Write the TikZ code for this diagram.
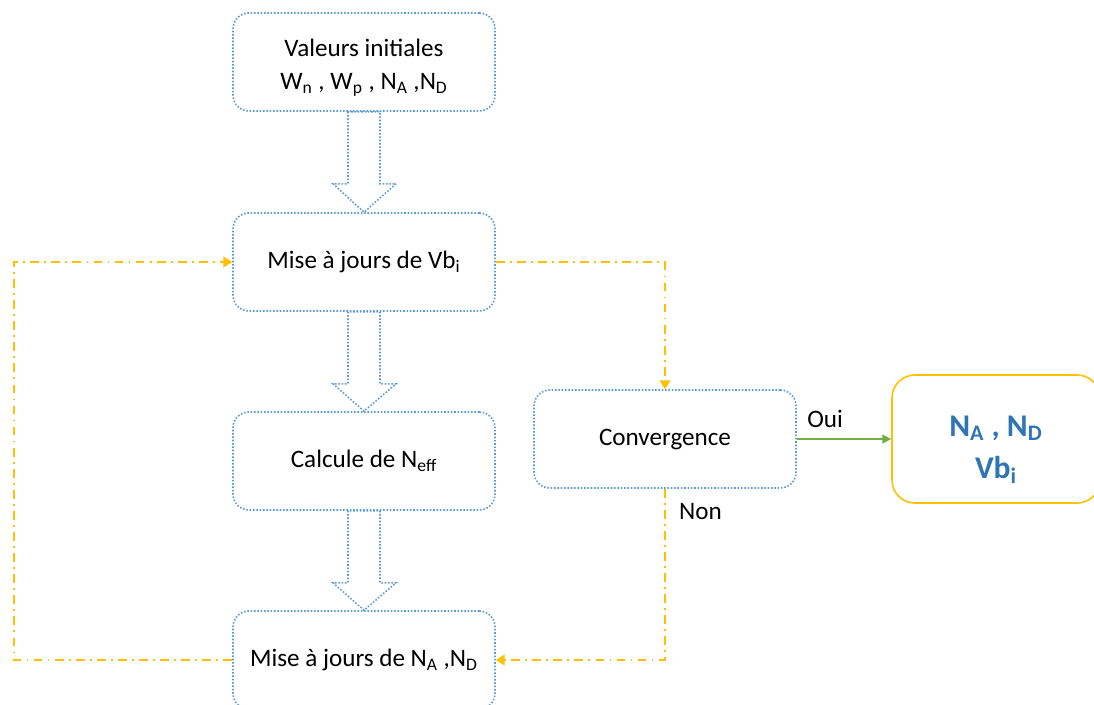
\documentclass[tikz,border=0pt]{standalone}
\usepackage{fontspec}
\setmainfont{Carlito}
\usetikzlibrary{arrows.meta,calc}

\definecolor{boxblue}{HTML}{5B9BD5}
\definecolor{loopgold}{HTML}{FFC000}
\definecolor{okgreen}{HTML}{70AD47}
\definecolor{resblue}{HTML}{2E75B6}

\tikzset{
  etape/.style={draw=boxblue, densely dotted, line width=0.9pt, rounded corners=9pt,
    minimum width=262*0.02cm, minimum height=98*0.02cm, align=center,
    font=\fontsize{14.3}{19}\selectfont},
  resultat/.style={draw=loopgold, line width=0.9pt, rounded corners=13pt,
    minimum width=208*0.02cm, minimum height=128*0.02cm,
    text=resblue, font=\fontsize{18}{24}\selectfont\bfseries},
  boucle/.style={draw=loopgold, line width=1.1pt, dash pattern=on 5pt off 3pt on 1pt off 3pt,
    -{Triangle[width=6pt,length=5pt]}},
  fleche/.style={draw=boxblue, densely dotted, line width=0.9pt, fill=white}
}

\begin{document}
\begin{tikzpicture}[x=0.02cm,y=-0.02cm]
  \useasboundingbox (0,0) rectangle (1094,704);

  % ─────────── etapes ───────────────────────────────────────────
  \node[etape] (init) at (364,62)  {\raisebox{-6pt}[0pt][0pt]{\begin{tabular}{@{}c@{}}Valeurs initiales\\ W\textsubscript{n} , W\textsubscript{p} , N\textsubscript{A} ,N\textsubscript{D}\end{tabular}}};
  \node[etape] (vbi)  at (364,262) {Mise à jours de Vb\textsubscript{i}};
  \node[etape] (neff) at (364,461) {Calcule de N\textsubscript{eff}};
  \node[etape] (nand) at (364,660) {Mise à jours de N\textsubscript{A} ,N\textsubscript{D}};
  \node[etape] (conv) at (665,439) {Convergence};
  \node[resultat] (res) at (996,439) {\raisebox{-10pt}[0pt][0pt]{\begin{tabular}{@{}c@{}}N\textsubscript{A} , N\textsubscript{D}\\ Vb\textsubscript{i}\end{tabular}}};

  % ─────────── fleches creuses ──────────────────────────────────
  \foreach \a/\b in {init/vbi, vbi/neff, neff/nand}
    \draw[fleche] ($(\a.south)+(-16,0)$) -- ($(\a.south)+(-16,72)$) -- ($(\a.south)+(-31,72)$)
      -- (\b.north) -- ($(\a.south)+(32,72)$) -- ($(\a.south)+(16,72)$) -- ($(\a.south)+(16,0)$) -- cycle;

  % ─────────── boucle ───────────────────────────────────────────
  \coordinate (gauche) at (14,0);
  \draw[boucle] (vbi.east) -| (conv.north);
  \draw[boucle] (conv.south) |- (nand.east);
  \draw[boucle] (nand.west) -| (gauche |- nand.west) |- (vbi.west);

  \draw[okgreen, line width=0.6pt, -{Triangle[width=5pt,length=5pt]}] (conv.east) -- (res.west)
    node[pos=0.3, above=3pt, text=black, font=\fontsize{14.3}{16}\selectfont] {Oui};
  \node[font=\fontsize{14.3}{16}\selectfont, anchor=north west] (non) at ($(conv.south)+(8,8)$) {Non};
\end{tikzpicture}
\end{document}
